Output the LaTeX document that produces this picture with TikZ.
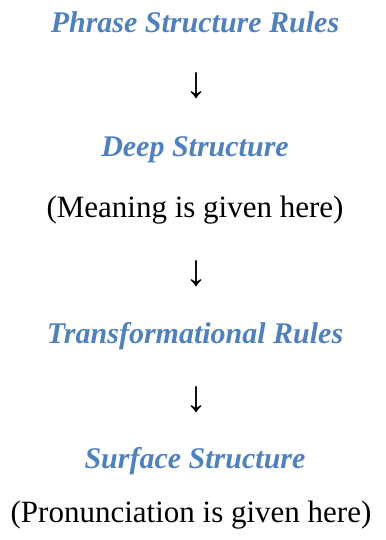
\documentclass[tikz,border=0pt]{standalone}
\usepackage{fontspec}
\setmainfont{Liberation Serif}
\definecolor{headblue}{RGB}{79,129,189}
\tikzset{
  head/.style={anchor=base, inner sep=0pt, text=headblue, font=\fontsize{30}{36}\selectfont\bfseries\itshape},
  plain/.style={anchor=base, inner sep=0pt, text=black, font=\fontsize{31}{37}\selectfont},
  arr/.style={anchor=center, inner sep=0pt, text=black, font=\fontsize{44}{50}\selectfont}
}
\begin{document}
\begin{tikzpicture}[x=1pt,y=1pt]
\useasboundingbox (0,0) rectangle (385,-540);
\node[head] (psr) at (195,-33) {Phrase Structure Rules};
\node[arr] (a1) at (196,-85.5) {↓};
\node[head] (ds) at (195,-157) {Deep Structure};
\node[plain] (mg) at (195,-217) {(Meaning is given here)};
\node[arr] (a2) at (196,-274) {↓};
\node[head] (tr) at (195,-343) {Transformational Rules};
\node[arr] (a3) at (196,-400) {↓};
\node[head] (ss) at (195,-468) {Surface Structure};
\node[plain] (pg) at (191,-522) {(Pronunciation is given here)};
\end{tikzpicture}
\end{document}
